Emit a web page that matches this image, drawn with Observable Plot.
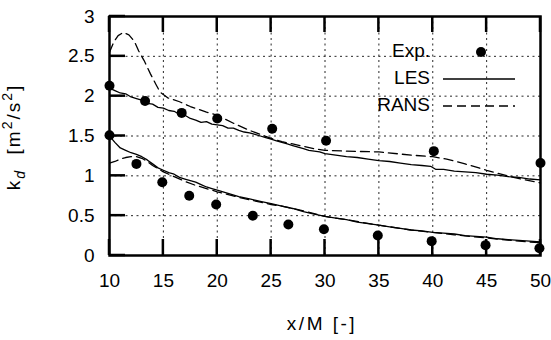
<!DOCTYPE html>
<html>
<head>
<meta charset="utf-8">
<script src="https://cdn.jsdelivr.net/npm/d3@7"></script>
<script src="https://cdn.jsdelivr.net/npm/@observablehq/plot@0.6"></script>
<style>
  html, body { margin: 0; padding: 0; background: #fff; }
  #chart { width: 551px; height: 340px; }
</style>
</head>
<body>
<div id="chart"></div>
<script>
// Axis ticks
const xTicks = [10, 15, 20, 25, 30, 35, 40, 45, 50];
const yTicks = [0, 0.5, 1, 1.5, 2, 2.5, 3];

// Experimental points (upper and lower profiles)
const expUpperX = [10, 13.3, 16.7, 20, 25.1, 30.1, 40.1, 50];
const expUpperK = [2.13, 1.94, 1.79, 1.72, 1.59, 1.44, 1.31, 1.16];
const expLowerX = [10, 12.5, 14.9, 17.4, 19.9, 23.3, 26.6, 29.9, 34.9, 39.9, 44.9, 49.9];
const expLowerK = [1.51, 1.15, 0.92, 0.75, 0.64, 0.50, 0.39, 0.33, 0.25, 0.18, 0.13, 0.09];

// LES, upper profile
const lesUpperX = [10, 10.5, 11, 11.5, 12, 12.5, 13, 13.5, 14, 14.5, 15, 15.5, 16, 16.5, 17, 17.5, 18, 18.5, 19, 19.5, 20, 20.5, 21, 21.5, 22, 22.5, 23, 23.5, 24, 24.5, 25, 25.5, 26, 26.5, 27, 27.5, 28, 28.5, 29, 29.5, 30, 31, 32, 33, 34, 35, 36, 37, 38, 39, 39.8, 40.3, 41, 42, 43, 44, 45, 46, 47, 48, 49, 50];
const lesUpperK = [2.10, 2.07, 2.04, 2.03, 1.99, 1.97, 1.95, 1.91, 1.90, 1.86, 1.85, 1.82, 1.81, 1.77, 1.76, 1.72, 1.70, 1.67, 1.68, 1.65, 1.64, 1.63, 1.60, 1.60, 1.57, 1.55, 1.54, 1.52, 1.50, 1.48, 1.46, 1.44, 1.42, 1.40, 1.38, 1.36, 1.34, 1.32, 1.31, 1.30, 1.28, 1.26, 1.24, 1.23, 1.21, 1.19, 1.18, 1.16, 1.14, 1.13, 1.12, 1.08, 1.08, 1.06, 1.05, 1.04, 1.02, 1.01, 0.99, 0.98, 0.96, 0.95];

// LES, lower profile
const lesLowerX = [10, 10.5, 11, 11.5, 12, 12.5, 13, 13.5, 14, 14.5, 15, 15.5, 16, 16.5, 17, 17.5, 18, 18.5, 19, 19.5, 20, 21, 22, 23, 24, 25, 26, 27, 28, 29, 30, 31, 32, 33, 34, 35, 36, 37, 38, 39, 40, 41, 42, 43, 44, 45, 46, 47, 48, 49, 50];
const lesLowerK = [1.50, 1.42, 1.35, 1.32, 1.29, 1.27, 1.24, 1.20, 1.15, 1.10, 1.07, 1.04, 1.02, 0.98, 0.96, 0.94, 0.92, 0.89, 0.86, 0.84, 0.82, 0.78, 0.74, 0.71, 0.68, 0.65, 0.62, 0.59, 0.55, 0.52, 0.49, 0.47, 0.45, 0.42, 0.40, 0.38, 0.36, 0.34, 0.32, 0.31, 0.29, 0.28, 0.27, 0.25, 0.24, 0.23, 0.21, 0.20, 0.19, 0.18, 0.17];

// RANS, upper profile
const ransUpperX = [10, 10.4, 10.8, 11.3, 11.8, 12.3, 12.7, 13.2, 13.8, 14.3, 14.7, 15.4, 16.5, 17.5, 19, 20, 21.5, 23, 25, 26, 27, 28, 29, 30, 32, 35, 38, 40, 41.3, 43, 45, 47.5, 50];
const ransUpperK = [2.55, 2.68, 2.76, 2.80, 2.77, 2.69, 2.57, 2.45, 2.28, 2.15, 2.05, 1.98, 1.93, 1.87, 1.80, 1.76, 1.66, 1.57, 1.47, 1.43, 1.40, 1.37, 1.34, 1.32, 1.31, 1.30, 1.26, 1.24, 1.21, 1.15, 1.07, 0.98, 0.91];

// RANS, lower profile
const ransLowerX = [10, 10.5, 11, 11.5, 12, 12.5, 13, 13.5, 14, 15, 16, 17, 18, 19, 20, 22, 24, 25, 26, 28, 30, 32, 35, 38, 40, 42, 45, 48, 50];
const ransLowerK = [1.16, 1.18, 1.21, 1.23, 1.24, 1.24, 1.22, 1.18, 1.13, 1.05, 0.99, 0.93, 0.88, 0.84, 0.80, 0.73, 0.67, 0.64, 0.62, 0.56, 0.49, 0.45, 0.38, 0.32, 0.29, 0.26, 0.22, 0.18, 0.16];

const pairs = (xs, ks) => xs.map((x, i) => ({x, k: ks[i]}));
const expUpper = pairs(expUpperX, expUpperK);
const expLower = pairs(expLowerX, expLowerK);
const lesUpper = pairs(lesUpperX, lesUpperK);
const lesLower = pairs(lesLowerX, lesLowerK);
const ransUpper = pairs(ransUpperX, ransUpperK);
const ransLower = pairs(ransLowerX, ransLowerK);

const W = 551, H = 340;
const mL = 109, mR = 11, mT = 16, mB = 85;
const tickLen = 16;
const FONT = "Liberation Sans, Arial, sans-serif";
const dash = "9,5";

const chart = Plot.plot({
  width: W,
  height: H,
  marginLeft: mL,
  marginRight: mR,
  marginTop: mT,
  marginBottom: mB,
  style: {fontFamily: FONT, fontSize: "19px", background: "white", color: "black"},
  x: {domain: [10, 50]},
  y: {domain: [0, 3]},
  marks: [
    Plot.gridX(xTicks, {stroke: "black", strokeOpacity: 0.85, strokeWidth: 1, strokeDasharray: "2,3.5"}),
    Plot.gridY(yTicks, {stroke: "black", strokeOpacity: 0.85, strokeWidth: 1, strokeDasharray: "2,3.5"}),
    Plot.axisX({ticks: xTicks, tickSize: 0, tickPadding: 18, label: null, tickFormat: d => String(d)}),
    Plot.axisY({ticks: yTicks, tickSize: 0, tickPadding: 15, label: null, tickFormat: d => String(d)}),
    Plot.line(lesUpper, {x: "x", y: "k", stroke: "black", strokeWidth: 1.3}),
    Plot.line(lesLower, {x: "x", y: "k", stroke: "black", strokeWidth: 1.3}),
    Plot.line(ransUpper, {x: "x", y: "k", stroke: "black", strokeWidth: 1.3, strokeDasharray: dash}),
    Plot.line(ransLower, {x: "x", y: "k", stroke: "black", strokeWidth: 1.3, strokeDasharray: dash}),
    Plot.dot(expUpper, {x: "x", y: "k", r: 5, fill: "black", stroke: "none"}),
    Plot.dot(expLower, {x: "x", y: "k", r: 5, fill: "black", stroke: "none"}),
    Plot.frame({stroke: "black", strokeWidth: 2.5})
  ]
});

document.getElementById("chart").appendChild(chart);

const svg = d3.select(chart);
const sx = chart.scale("x"), sy = chart.scale("y");
const [fx0] = sx.range;
const [fy0, fy1] = sy.range; // bottom, top

// Inward ticks on the bottom, top and left edges of the frame, drawn as filled bars
const ticks = svg.append("g");
const tickW = 2.5;
for (const v of xTicks) {
  const px = sx.apply(v);
  ticks.append("rect").attr("x", px - tickW / 2).attr("y", fy0 - tickLen).attr("width", tickW).attr("height", tickLen).style("fill", "#000").style("stroke", "none");
  ticks.append("rect").attr("x", px - tickW / 2).attr("y", fy1).attr("width", tickW).attr("height", tickLen).style("fill", "#000").style("stroke", "none");
}
for (const v of yTicks) {
  const py = sy.apply(v);
  ticks.append("rect").attr("x", fx0).attr("y", py - tickW / 2).attr("width", tickLen).attr("height", tickW).style("fill", "#000").style("stroke", "none");
}

// Legend (key) in the upper right corner
const key = svg.append("g").attr("font-family", FONT).attr("font-size", 19);
const rows = [
  {label: "Exp.", y: 52, kind: "dot"},
  {label: "LES", y: 79, kind: "solid"},
  {label: "RANS", y: 106, kind: "dashed"}
];
for (const r of rows) {
  key.append("text")
    .attr("x", 430).attr("y", r.y)
    .attr("text-anchor", "end").attr("dominant-baseline", "middle")
    .attr("fill", "black")
    .text(r.label);
  if (r.kind === "dot") {
    key.append("circle").attr("cx", 481).attr("cy", r.y).attr("r", 5).attr("fill", "black");
  } else {
    key.append("line")
      .attr("x1", 443).attr("x2", 515).attr("y1", r.y).attr("y2", r.y)
      .attr("stroke", "black").attr("stroke-width", 1.3)
      .attr("stroke-dasharray", r.kind === "dashed" ? dash : null);
  }
}

// Axis titles
svg.append("text")
  .attr("x", 322).attr("y", 325)
  .attr("text-anchor", "middle").attr("dominant-baseline", "middle")
  .attr("font-family", FONT).attr("font-size", 19).attr("fill", "black")
  .attr("letter-spacing", 2.5)
  .text("x/M [-]");

const yl = svg.append("text")
  .attr("transform", "translate(20,137) rotate(-90)")
  .attr("text-anchor", "middle")
  .attr("font-family", FONT).attr("font-size", 19).attr("fill", "black")
  .attr("letter-spacing", 2);
yl.append("tspan").text("k");
yl.append("tspan").attr("font-size", 14).attr("font-style", "italic").attr("dy", 5).text("d");
yl.append("tspan").attr("dy", -5).text("  [m");
yl.append("tspan").attr("font-size", 14).attr("dy", -8).text("2");
yl.append("tspan").attr("dy", 8).text("/s");
yl.append("tspan").attr("font-size", 14).attr("dy", -8).text("2");
yl.append("tspan").attr("dy", 8).text("]");
</script>
</body>
</html>
